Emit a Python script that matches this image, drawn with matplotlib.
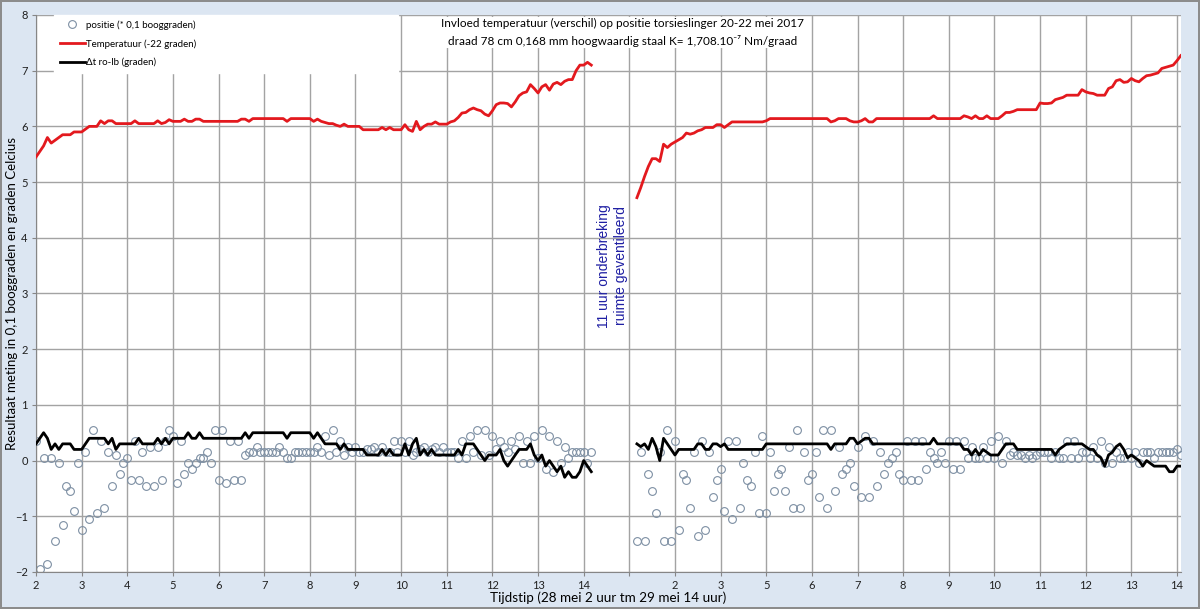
import numpy as np
import matplotlib
matplotlib.use("Agg")
import matplotlib.pyplot as plt
from matplotlib.lines import Line2D

plt.rcParams['font.family'] = ['Lato', 'DejaVu Sans']

# categorie-as: 1 categorie = 5 minuten, label elke 12 categorieen
tick_labels = ['2', '3', '4', '5', '6', '7', '8', '9', '10', '11', '12', '13', '14', '',
               '2', '3', '5', '6', '7', '8', '9', '10', '11', '12', '13', '14']

# eerste meetreeks (28 mei)
start1 = 0
positie1 = [0.35, -1.95, 0.05, -1.85, 0.05, -1.45, -0.05, -1.15, -0.45, -0.55,
            -0.9, -0.05, -1.25, 0.15, -1.05, 0.55, -0.95, 0.35, -0.85, 0.15,
            -0.45, 0.1, -0.25, -0.05, 0.05, -0.35, 0.35, -0.35, 0.15, -0.45,
            0.25, -0.45, 0.25, -0.35, 0.35, 0.55, 0.45, -0.4, 0.35, -0.25,
            -0.05, -0.15, -0.05, 0.05, 0.05, 0.15, -0.05, 0.55, -0.35, 0.55,
            -0.4, 0.35, -0.35, 0.35, -0.35, 0.1, 0.15, 0.15, 0.25, 0.15,
            0.15, 0.15, 0.15, 0.15, 0.25, 0.15, 0.05, 0.05, 0.15, 0.15,
            0.15, 0.15, 0.15, 0.15, 0.25, 0.15, 0.45, 0.1,
            0.55, 0.15, 0.35, 0.1, 0.25, 0.15, 0.25, 0.15, 0.15, 0.2,
            0.2, 0.25, 0.15, 0.25, 0.15, 0.15, 0.35, 0.15, 0.35, 0.15,
            0.35, 0.1, 0.15, 0.2, 0.25, 0.15, 0.2, 0.25, 0.15, 0.25,
            0.15, 0.15, 0.15, 0.05, 0.35, 0.05, 0.45, 0.15, 0.55, 0.1,
            0.55, 0.1, 0.45, 0.2, 0.35, 0.25, 0.15, 0.35, 0.2, 0.45,
            -0.05, 0.35, -0.05, 0.45, 0.05, 0.55, -0.15, 0.45, -0.2, 0.35,
            -0.05, 0.25, 0.05, 0.15, 0.15, 0.15, 0.15, -0.05, 0.15]
temp1 = [5.45, 5.55, 5.65, 5.8, 5.7, 5.75, 5.8, 5.85, 5.85, 5.85,
         5.9, 5.9, 5.9, 5.95, 6.0, 6.0, 6.0, 6.1, 6.05, 6.1,
         6.1, 6.05, 6.05, 6.05, 6.05, 6.05, 6.1, 6.05, 6.05, 6.05,
         6.05, 6.05, 6.1, 6.05,
         6.07, 6.12, 6.09, 6.09, 6.09, 6.13, 6.09, 6.09, 6.13, 6.13,
         6.09, 6.09, 6.09, 6.09, 6.09, 6.09, 6.09, 6.09, 6.09, 6.09,
         6.13, 6.13, 6.09, 6.14, 6.14, 6.14, 6.14, 6.14, 6.14, 6.14,
         6.14, 6.14, 6.09, 6.14, 6.14, 6.14, 6.14, 6.14, 6.14, 6.09,
         6.13, 6.09, 6.07, 6.05,
         6.05, 6.02, 6.0, 6.04, 6.0, 6.0, 6.0, 6.0, 5.94, 5.94,
         5.94, 5.94, 5.94, 5.98, 5.94, 5.98, 5.94, 5.94, 5.94, 6.03,
         5.94, 5.91, 6.09, 5.94, 6.0, 6.04, 6.04, 6.08, 6.04, 6.04,
         6.04, 6.08, 6.1, 6.16, 6.24, 6.25, 6.3, 6.33, 6.3, 6.28,
         6.22, 6.19, 6.28, 6.39, 6.42, 6.42, 6.41, 6.35, 6.44, 6.55,
         6.6, 6.62, 6.75, 6.68, 6.6, 6.71, 6.75, 6.65, 6.76, 6.79,
         6.75, 6.81, 6.84, 6.84, 7.0, 7.1, 7.1, 7.15, 7.1]
dt1 = [0.3, 0.4, 0.5, 0.4, 0.2, 0.3, 0.2, 0.3, 0.3, 0.3,
       0.2, 0.2, 0.2, 0.3, 0.4, 0.4, 0.4, 0.4, 0.4, 0.3,
       0.4, 0.2, 0.3, 0.3, 0.3, 0.3, 0.3, 0.4, 0.3, 0.3,
       0.3, 0.3, 0.4, 0.3, 0.4, 0.3, 0.4, 0.4, 0.4, 0.4,
       0.5, 0.4, 0.4, 0.5, 0.4, 0.4, 0.4, 0.4, 0.4, 0.4,
       0.4, 0.4, 0.4, 0.4, 0.4, 0.5, 0.4, 0.5, 0.5, 0.5,
       0.5, 0.5, 0.5, 0.5, 0.5, 0.5, 0.4, 0.5, 0.5, 0.5,
       0.5, 0.5, 0.5, 0.4, 0.5, 0.4, 0.3, 0.3, 0.3, 0.3,
       0.2, 0.3, 0.2, 0.2, 0.2, 0.2, 0.2, 0.1, 0.1, 0.1,
       0.1, 0.2, 0.1, 0.2, 0.1, 0.1, 0.1, 0.3, 0.1, 0.3,
       0.4, 0.1, 0.2, 0.1, 0.2, 0.1, 0.1, 0.1, 0.1, 0.1,
       0.1, 0.2, 0.1, 0.3, 0.3, 0.3, 0.2, 0.1, 0.0, 0.1,
       0.1, 0.1, 0.2, 0.0, -0.1, 0.0, 0.1, 0.2, 0.2, 0.2,
       0.3, 0.1, 0.0, 0.1, -0.1, 0.0, -0.1, -0.2, -0.1, -0.3,
       -0.2, -0.3, -0.3, -0.2, 0.0, -0.1, -0.2]

# tweede meetreeks (29 mei), na 11 uur onderbreking
start2 = 158
positie2 = [-1.45, 0.15, -1.45, -0.25, -0.55, -0.95, 0.15, -1.45, 0.55, -1.45,
            0.35, -1.25, -0.25, -0.35, -0.85, 0.15, -1.35, 0.35, -1.25, 0.15,
            -0.65, -0.35, -0.15, -0.9, 0.35, -1.05, 0.35, -0.85, -0.05, -0.35,
            -0.45, 0.15, -0.95, 0.45, -0.95, 0.15, -0.55, -0.25, -0.15, -0.55,
            0.25, -0.85, 0.55, -0.85, 0.15, -0.35, -0.25, 0.15, -0.65, 0.55,
            -0.85, 0.55, -0.55, 0.25, -0.25, -0.15, -0.05, -0.45, 0.25, -0.65,
            0.45, -0.65, 0.35, -0.45, 0.15, -0.25, -0.05, 0.05, 0.15, -0.25,
            -0.35, 0.35,
            -0.35, 0.35, -0.35, 0.35, -0.15, 0.15, 0.05, -0.05, 0.15, -0.05,
            0.35, -0.15, 0.35, -0.15, 0.35, 0.05, 0.25, 0.05, 0.05, 0.25,
            0.05, 0.35, 0.05, 0.45, -0.05, 0.35, 0.1, 0.15, 0.1, 0.1,
            0.05, 0.1, 0.05, 0.1, 0.15, 0.15, 0.15, 0.05, 0.15, 0.05,
            0.05, 0.35, 0.05, 0.35, 0.05, 0.15, 0.15, 0.05, 0.25, 0.05,
            0.35, -0.05, 0.25, -0.05, 0.15, 0.05, 0.05, 0.15, 0.05, 0.15,
            -0.05, 0.15, 0.15, 0.15, 0.05, 0.15, 0.15, 0.15, 0.15, 0.15,
            0.2, 0.1]
temp2 = [4.72, 4.9, 5.1, 5.28, 5.42, 5.42, 5.37, 5.68, 5.62, 5.68,
         5.72, 5.76, 5.8, 5.88, 5.86, 5.88, 5.92, 5.94, 5.98, 5.98,
         5.98, 6.03, 6.03, 5.98, 6.03, 6.08, 6.08, 6.08, 6.08, 6.08,
         6.08, 6.08, 6.08, 6.08, 6.1, 6.14, 6.14, 6.14, 6.14, 6.14,
         6.14, 6.14, 6.14, 6.14, 6.14, 6.14, 6.14, 6.14, 6.14, 6.14,
         6.14, 6.08, 6.1, 6.14, 6.14, 6.14, 6.1, 6.08, 6.08, 6.1,
         6.14, 6.08, 6.08, 6.14, 6.14, 6.14, 6.14, 6.14, 6.14, 6.14,
         6.14, 6.14,
         6.14, 6.14, 6.14, 6.14, 6.14, 6.14, 6.19, 6.14, 6.14, 6.14,
         6.14, 6.14, 6.14, 6.14, 6.19, 6.17, 6.14, 6.19, 6.14, 6.14,
         6.19, 6.14, 6.14, 6.14, 6.19, 6.25, 6.25, 6.27, 6.3, 6.3,
         6.3, 6.3, 6.3, 6.3, 6.42, 6.41, 6.41, 6.42, 6.48, 6.5,
         6.52, 6.56, 6.56, 6.56, 6.56, 6.66, 6.62, 6.6, 6.59, 6.56,
         6.56, 6.56, 6.68, 6.71, 6.82, 6.84, 6.79, 6.8, 6.86, 6.82,
         6.8, 6.86, 6.91, 6.92, 6.94, 6.96, 7.04, 7.06, 7.08, 7.1,
         7.18, 7.27]
dt2 = [0.3, 0.25, 0.3, 0.2, 0.4, 0.25, 0.0, 0.4, 0.3, 0.2,
       0.1, 0.2, 0.2, 0.2, 0.2, 0.2, 0.3, 0.3, 0.2, 0.2,
       0.3, 0.3, 0.25, 0.3, 0.2, 0.2, 0.2, 0.2, 0.2, 0.2,
       0.2, 0.2, 0.2, 0.2, 0.3, 0.3, 0.3, 0.3, 0.3, 0.3,
       0.3, 0.3, 0.3, 0.3, 0.3, 0.3, 0.3, 0.3, 0.3, 0.3,
       0.3, 0.2, 0.3, 0.3, 0.3, 0.3, 0.4, 0.4, 0.3, 0.35,
       0.4, 0.4, 0.3, 0.3, 0.3, 0.3, 0.3, 0.3, 0.3, 0.3,
       0.3, 0.3,
       0.3, 0.3, 0.3, 0.3, 0.3, 0.3, 0.4, 0.3, 0.3, 0.3,
       0.3, 0.3, 0.3, 0.3, 0.2, 0.2, 0.1, 0.2, 0.1, 0.2,
       0.15, 0.1, 0.1, 0.1, 0.2, 0.3, 0.3, 0.3, 0.2, 0.2,
       0.2, 0.2, 0.2, 0.2, 0.2, 0.2, 0.2, 0.2, 0.1, 0.2,
       0.25, 0.3, 0.3, 0.3, 0.3, 0.3, 0.25, 0.2, 0.2, 0.1,
       0.05, -0.1, 0.1, 0.15, 0.25, 0.3, 0.2, 0.05, 0.1, 0.05,
       0.0, -0.1, 0.0, -0.05, -0.1, -0.1, -0.1, -0.1, -0.2, -0.2,
       -0.1, -0.1]

x1 = start1 + np.arange(len(temp1))
x2 = start2 + np.arange(len(temp2))

fig = plt.figure(figsize=(12, 6.09), dpi=100)
fig.patch.set_facecolor('#dce6f2')
fig.patch.set_edgecolor('#8c8c8c')
fig.patch.set_linewidth(1.5)

ax = fig.add_axes([0.030, 0.0608, 0.954, 0.9146])
ax.set_facecolor('white')

kleur_pos = '#7d8fa3'
for xs, ys in [(x1, positie1), (x2, positie2)]:
    ax.plot(xs, ys, linestyle='none', marker='o', markersize=5.6,
            markerfacecolor='none', markeredgecolor=kleur_pos, markeredgewidth=0.8,
            zorder=2)
for xs, ys in [(x1, temp1), (x2, temp2)]:
    ax.plot(xs, ys, color='#e3191e', linewidth=2.0, zorder=3)
for xs, ys in [(x1, dt1), (x2, dt2)]:
    ax.plot(xs, ys, color='black', linewidth=2.0, zorder=3)

ax.set_xlim(0, 301)
ax.set_ylim(-2, 8)
ax.set_xticks(np.arange(len(tick_labels)) * 12)
ax.set_xticklabels(tick_labels)
ax.set_yticks(np.arange(-2, 9, 1))
ax.grid(True, color='#a3a3a3', linewidth=1.0)
ax.set_axisbelow(True)
ax.tick_params(labelsize=8, length=3, color='#868686', pad=3, labelcolor='#202020')
for s in ['top', 'right']:
    ax.spines[s].set_visible(False)
for s in ['left', 'bottom']:
    ax.spines[s].set_color('#868686')

ax.set_xlabel('Tijdstip (28 mei 2 uur tm 29 mei 14 uur)', fontsize=9.7, labelpad=0)
ax.set_ylabel('Resultaat meting in 0,1 booggraden en graden Celcius', fontsize=9.5)
ax.yaxis.set_label_coords(-0.0155, 0.5)

handles = [
    Line2D([], [], linestyle='none', marker='o', markersize=5.6, markerfacecolor='none',
           markeredgecolor=kleur_pos, markeredgewidth=0.8),
    Line2D([], [], color='#e3191e', linewidth=2.0),
    Line2D([], [], color='black', linewidth=2.0),
]
labels = ['positie (* 0,1 booggraden)', 'Temperatuur (-22 graden)', 'Δt ro-lb (graden)']
leg = ax.legend(handles, labels, loc='upper left', bbox_to_anchor=(0.016, 1, 0.30, 0),
                mode='expand', fontsize=7, handlelength=2.6, handletextpad=0.1,
                labelspacing=0.95, borderpad=0.55, borderaxespad=0,
                frameon=True, fancybox=False, framealpha=1, facecolor='white',
                edgecolor='white')
leg.set_zorder(5)

ax.text(0.512, 0.969,
        'Invloed temperatuur (verschil) op positie torsieslinger 20-22 mei 2017\n'
        'draad 78 cm 0,168 mm hoogwaardig staal K= 1,708.10⁻⁷ Nm/graad',
        transform=ax.transAxes, ha='center', va='center', fontsize=8.5,
        linespacing=1.55, zorder=5,
        bbox=dict(facecolor='white', edgecolor='none', pad=1))

ax.text(151.5, 3.5, '11 uur onderbreking\nruimte geventileerd', rotation=90,
        ha='center', va='center', multialignment='center', color='#1f1fa3',
        fontsize=10, linespacing=1.3, zorder=5,
        family=['Liberation Sans', 'DejaVu Sans'])

fig.savefig('out.png', dpi=100, facecolor=fig.get_facecolor(), edgecolor=fig.get_edgecolor())
